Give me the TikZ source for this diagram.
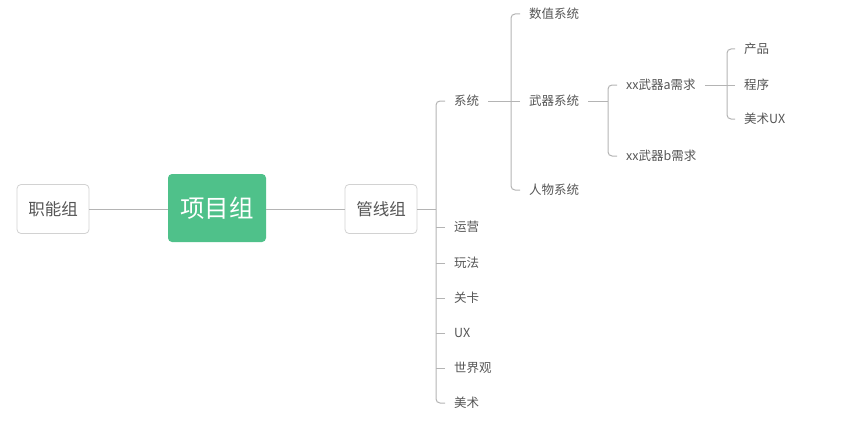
\documentclass[tikz,border=0pt]{standalone}
\usepackage{fontspec}
\setmainfont{Noto Sans CJK SC}
\usepackage{xcolor}
\definecolor{leafgray}{HTML}{555555}
\definecolor{linegray}{HTML}{B4B4B4}
\definecolor{boxgray}{HTML}{D2D2D2}
\definecolor{projgreen}{HTML}{4FC18A}

\begin{document}
\begin{tikzpicture}[x=1pt, y=-1pt,
    box/.style={draw=boxgray, line width=0.8pt, rounded corners=4pt, fill=white, text=leafgray, minimum width=72pt, minimum height=49pt, font=\fontsize{16.5}{19}\selectfont},
    leaf/.style={anchor=west, inner xsep=9pt, inner ysep=2pt, text=leafgray, font=\fontsize{12.5}{15}\selectfont},
    link/.style={draw=linegray, line width=1pt, rounded corners=4pt}]
            \useasboundingbox (0,0) rectangle (864,436);
            % left side
            \node[box] (zn) at (53,209) {职能组};
            \node[box, draw=none, fill=projgreen, text=white, minimum width=98pt, minimum height=68pt, font=\fontsize{24.5}{28}\selectfont] (xm) at (217,208) {项目组};
            \node[box] (gx) at (381,209) {管线组};
            \draw[link] (zn.east) -- (xm.west |- zn.east);
            \draw[link] (xm.east |- gx.west) -- (gx.west);

            % level 1
            \node[leaf] (xt) at (445,101) {系统};
            \node[leaf] (yy) at (445,227) {运营};
            \node[leaf] (wf) at (445,263) {玩法};
            \node[leaf] (gk) at (445,298) {关卡};
            \node[leaf] (ux) at (445,333) {UX};
            \node[leaf] (sj) at (445,368) {世界观};
            \node[leaf] (ms) at (445,403) {美术};
            \coordinate (t1) at (436,209);
            \draw[link] (gx.east) -- (t1);
            \draw[link] (xt.west) -| (t1) |- (ms.west);
            \foreach \n in {yy,wf,gk,ux,sj}
                \draw[link] (\n.west) -- (\n.west -| t1);

            % level 2
            \node[leaf] (sz) at (520,14) {数值系统};
            \node[leaf] (wq) at (520,101) {武器系统};
            \node[leaf] (rw) at (520,190) {人物系统};
            \coordinate (t2) at (511,101);
            \draw[link] (xt.east) -- (t2);
            \draw[link] (sz.west) -| (t2) |- (rw.west);
            \draw[link] (wq.west) -- (t2);

            % level 3
            \node[leaf] (wa) at (617,85) {xx武器a需求};
            \node[leaf] (wb) at (617,156) {xx武器b需求};
            \coordinate (t3) at (608,101);
            \draw[link] (wq.east) -- (t3);
            \draw[link] (wa.west) -| (t3) |- (wb.west);

            % level 4
            \node[leaf] (cp) at (735,49) {产品};
            \node[leaf] (cx) at (735,85) {程序};
            \node[leaf] (mu) at (735,119) {美术UX};
            \coordinate (t4) at (727,85);
            \draw[link] (wa.east) -- (t4);
            \draw[link] (cp.west) -| (t4) |- (mu.west);
            \draw[link] (cx.west) -- (t4);
\end{tikzpicture}
\end{document}
